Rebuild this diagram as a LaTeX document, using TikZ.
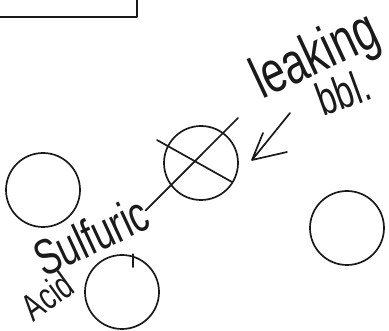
\documentclass[tikz,border=0pt]{standalone}
\usepackage{fontspec}
\setmainfont{Liberation Sans}
\definecolor{PenInk}{HTML}{1A1A1A}
\newcommand{\penword}[1]{\scalebox{1}[1.4]{#1}}

\begin{document}
\begin{tikzpicture}[x=1pt,y=-1pt,line cap=round,line join=round,PenInk,
  barrel/.style={circle,draw,line width=1.7pt,minimum size=74pt,inner sep=0pt},
  scrawl/.style={font=\fontsize{#1}{#1}\selectfont,inner sep=0pt}]
  \useasboundingbox (0,0) rectangle (389,331);
  \draw[line width=1.7pt] (0,17) -- (137,17) -- (137,0);
  \node[barrel] (left) at (43,190) {}; \node[barrel] (leak) at (201,163) {};
  \node[barrel] (right) at (347,228) {}; \node[barrel] (bottom) at (122,292) {};
  \draw[line width=1.4pt] ([xshift=11pt]bottom.north) -- ++(0,13);
  \coordinate (crossNW) at (157,140); \coordinate (crossSE) at (232,182); \coordinate (crossNE) at (238,118);
  \draw[line width=1.7pt] (crossNW) -- (crossSE);
  \node[scrawl=42,rotate=25] (leaking) at (316,58) {\penword{leaking}};
  \node[scrawl=33,rotate=20] (bbl) at (343,92) {\penword{bbl.}};
  \node[scrawl=36,rotate=25] (sulfuric) at (91,236) {\penword{Sulfuric}};
  \node[scrawl=27,rotate=36] (acid) at (47,296) {\penword{Acid}};
  \draw[line width=1.7pt] (sulfuric.east) -- (crossNE);
  \coordinate (tail) at (290,113); \coordinate (tip) at (252,160);
  \draw[line width=1.7pt] (tail) -- (tip) -- ++(11,-27) (tip) -- ++(35,-8);
\end{tikzpicture}
\end{document}
